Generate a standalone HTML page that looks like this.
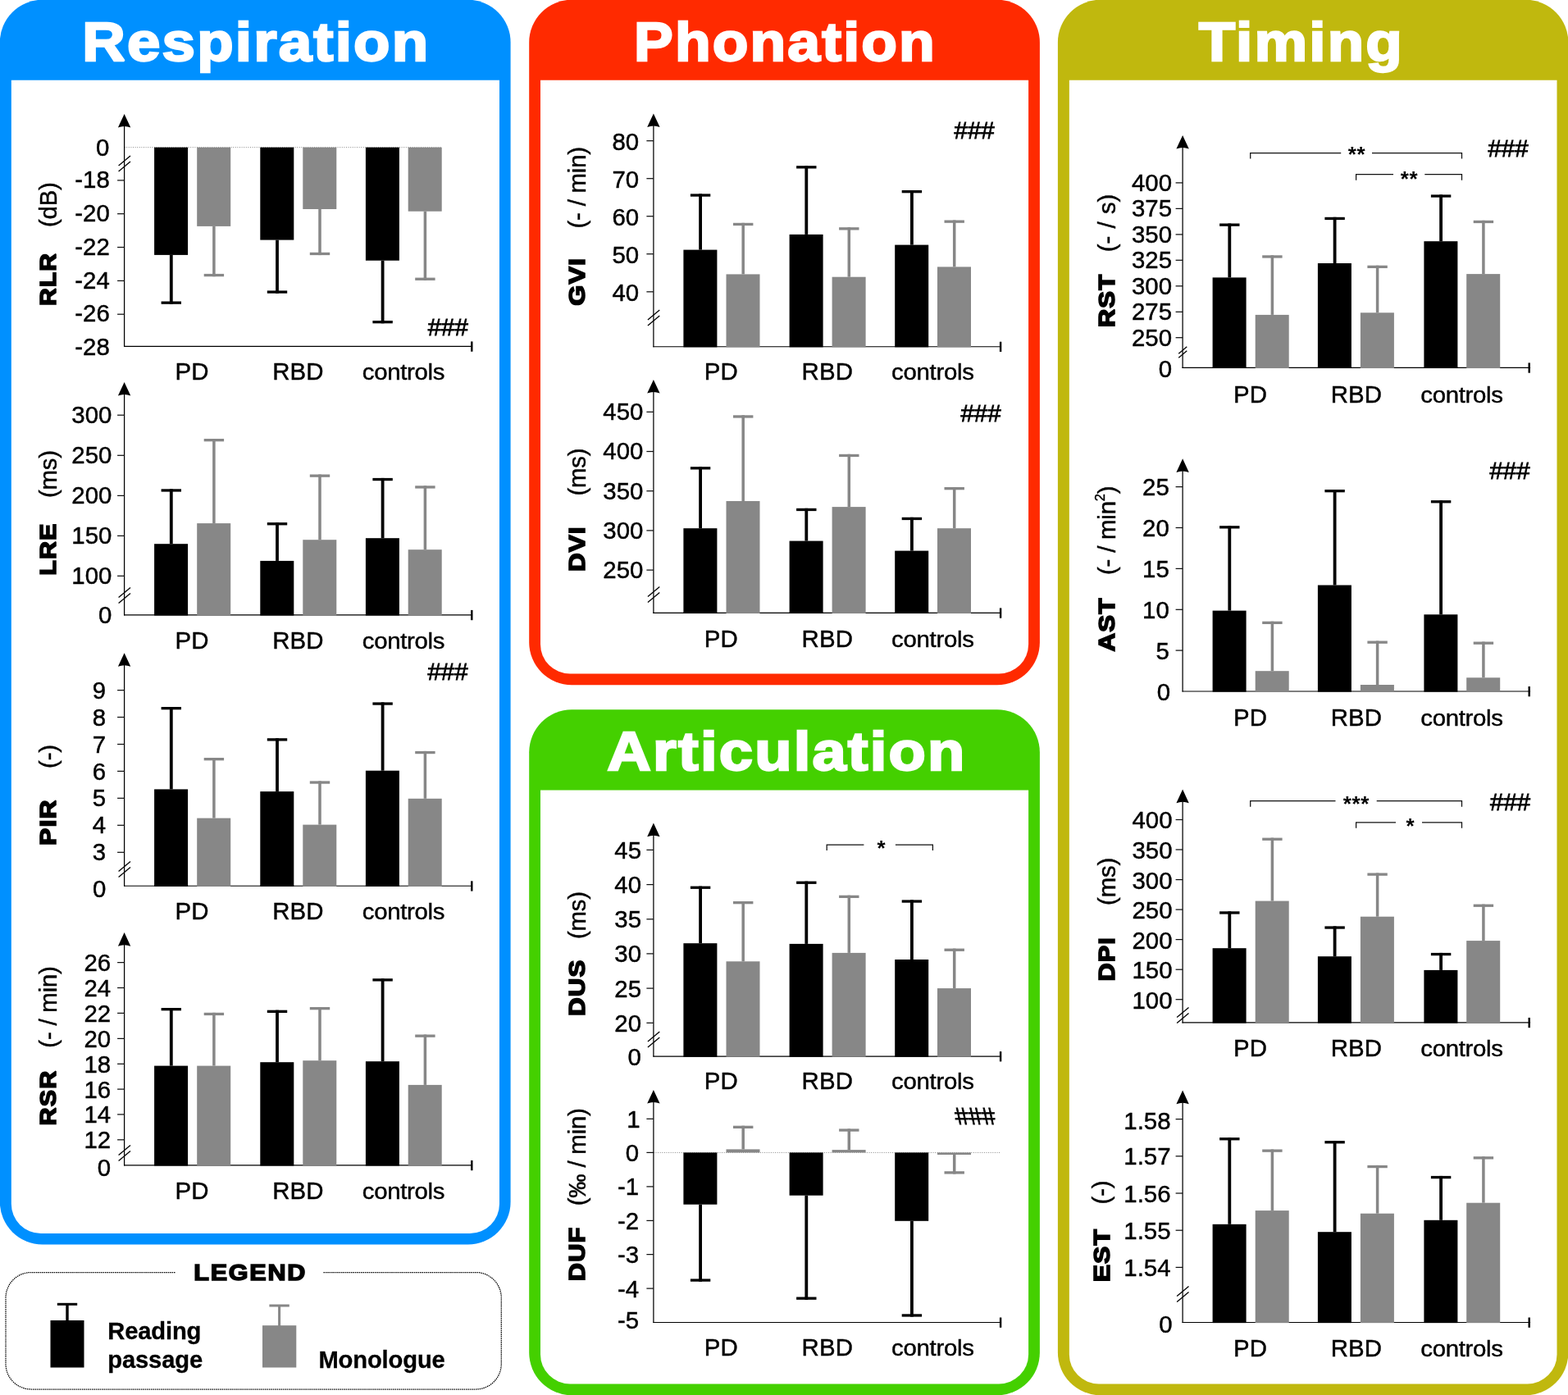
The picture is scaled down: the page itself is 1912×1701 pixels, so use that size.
<!DOCTYPE html>
<html lang="en"><head><meta charset="utf-8"><title>Speech dimensions: Respiration, Phonation, Articulation, Timing</title>
<style>
html,body{margin:0;padding:0;background:#fff;}
body{width:1912px;height:1701px;overflow:hidden;}
svg{display:block;}
text{font-family:"Liberation Sans",sans-serif;fill:#000;}
.ttl{font-weight:bold;font-size:67.5px;letter-spacing:2px;fill:#fff;stroke:#fff;stroke-width:2.4px;stroke-linejoin:miter;stroke-miterlimit:2;}
.tk,.xl,.yu,.hs{font-size:29.4px;stroke:#000;stroke-width:0.45px;}
.hs{stroke-width:0.8px;}
.tk{text-anchor:end;}
.xl{text-anchor:middle;letter-spacing:-0.3px;}
.yu{letter-spacing:-0.2px;}
.yb{font-weight:bold;font-size:28px;letter-spacing:1px;stroke:#000;stroke-width:1.6px;stroke-linejoin:miter;stroke-miterlimit:2;}
.hs{text-anchor:middle;}
.st{font-size:26px;font-weight:bold;text-anchor:middle;letter-spacing:0.6px;}
.lg{font-weight:bold;font-size:29.2px;letter-spacing:-0.15px;stroke:#000;stroke-width:0.3px;}
.lgt{font-weight:bold;font-size:27.5px;letter-spacing:1.6px;stroke:#000;stroke-width:1.5px;stroke-linejoin:miter;stroke-miterlimit:2;}
</style></head><body>
<svg width="1912" height="1701" viewBox="0 0 1912 1701">
<rect width="1912" height="1701" fill="#fff"/>
<rect x="-0.2" y="-0.3" width="622.8" height="1517.7" rx="52" ry="52" fill="#0090ff"/>
<path d="M13.8 97.7 H609 V1468 A36 36 0 0 1 573 1504 H49.8 A36 36 0 0 1 13.8 1468 Z" fill="#fff"/>
<text class="ttl" x="100.2" y="74" textLength="424.1" lengthAdjust="spacingAndGlyphs">Respiration</text>
<rect x="645.2" y="-0.3" width="622.7" height="835.5" rx="52" ry="52" fill="#ff2a00"/>
<path d="M659 97.7 H1254.1 V785.6 A36 36 0 0 1 1218.1 821.6 H695 A36 36 0 0 1 659 785.6 Z" fill="#fff"/>
<text class="ttl" x="773.1" y="74" textLength="368.7" lengthAdjust="spacingAndGlyphs">Phonation</text>
<rect x="645.2" y="865.3" width="622.7" height="836" rx="52" ry="52" fill="#44d000"/>
<path d="M659 963.6 H1254.1 V1651.4 A36 36 0 0 1 1218.1 1687.4 H695 A36 36 0 0 1 659 1651.4 Z" fill="#fff"/>
<text class="ttl" x="740.3" y="938.5" textLength="438.2" lengthAdjust="spacingAndGlyphs">Articulation</text>
<rect x="1289.9" y="-0.3" width="622.5" height="1701.6" rx="52" ry="52" fill="#c0b80e"/>
<path d="M1303.85 97.7 H1898.5 V1651.4 A36 36 0 0 1 1862.5 1687.4 H1339.85 A36 36 0 0 1 1303.85 1651.4 Z" fill="#fff"/>
<text class="ttl" x="1461.8" y="74" textLength="250.2" lengthAdjust="spacingAndGlyphs">Timing</text>
<g><line x1="151.6" y1="179.7" x2="539" y2="179.7" stroke="#777" stroke-width="0.9" stroke-dasharray="1 1.6"/>
<line x1="151.6" y1="148.9" x2="151.6" y2="422.9" stroke="#000" stroke-width="1.25"/>
<path d="M151.6 138.9 L159.3 155.5 Q151.6 152.5 143.9 155.5 Z" fill="#000"/>
<line x1="151.05" y1="422.4" x2="575.6" y2="422.4" stroke="#000" stroke-width="1.1"/>
<line x1="575.3" y1="416.4" x2="575.3" y2="428.7" stroke="#000" stroke-width="2.4"/>
<rect x="188.1" y="179.7" width="41.0" height="131.2" fill="#000"/>
<rect x="240.2" y="179.7" width="41.0" height="96.2" fill="#878787"/>
<rect x="317.3" y="179.7" width="41.0" height="112.9" fill="#000"/>
<rect x="369.3" y="179.7" width="41.0" height="75.3" fill="#878787"/>
<rect x="445.9" y="179.7" width="41.0" height="138" fill="#000"/>
<rect x="497.7" y="179.7" width="41.0" height="78" fill="#878787"/>
<rect x="206.9" y="310.9" width="3.8" height="59.9" fill="#000"/>
<rect x="196.6" y="367.5" width="24.4" height="3.3" fill="#000"/>
<rect x="259.15" y="275.9" width="3.5" height="61.3" fill="#878787"/>
<rect x="248.7" y="333.9" width="24.4" height="3.3" fill="#878787"/>
<rect x="336.1" y="292.6" width="3.8" height="65.1" fill="#000"/>
<rect x="325.8" y="354.4" width="24.4" height="3.3" fill="#000"/>
<rect x="388.25" y="255" width="3.5" height="56.1" fill="#878787"/>
<rect x="377.8" y="307.8" width="24.4" height="3.3" fill="#878787"/>
<rect x="464.7" y="317.7" width="3.8" height="76.6" fill="#000"/>
<rect x="454.4" y="391" width="24.4" height="3.3" fill="#000"/>
<rect x="516.65" y="257.7" width="3.5" height="84.2" fill="#878787"/>
<rect x="506.2" y="338.6" width="24.4" height="3.3" fill="#878787"/>
<line x1="143.1" y1="219.9" x2="151.6" y2="219.9" stroke="#111" stroke-width="1.25"/>
<text class="tk" transform="translate(133.8 229.1) scale(1 1.015)">-18</text>
<line x1="143.1" y1="260.7" x2="151.6" y2="260.7" stroke="#111" stroke-width="1.25"/>
<text class="tk" transform="translate(133.8 269.9) scale(1 1.015)">-20</text>
<line x1="143.1" y1="301.5" x2="151.6" y2="301.5" stroke="#111" stroke-width="1.25"/>
<text class="tk" transform="translate(133.8 310.7) scale(1 1.015)">-22</text>
<line x1="143.1" y1="342.4" x2="151.6" y2="342.4" stroke="#111" stroke-width="1.25"/>
<text class="tk" transform="translate(133.8 351.6) scale(1 1.015)">-24</text>
<line x1="143.1" y1="383.2" x2="151.6" y2="383.2" stroke="#111" stroke-width="1.25"/>
<text class="tk" transform="translate(133.8 392.4) scale(1 1.015)">-26</text>
<text class="tk" transform="translate(133.8 433.2) scale(1 1.015)">-28</text>
<text class="tk" transform="translate(133.4 189.8) scale(1 1.015)">0</text>
<line x1="144.6" y1="202" x2="159" y2="189.9" stroke="#000" stroke-width="1.3"/>
<line x1="144.6" y1="209.1" x2="159" y2="197" stroke="#000" stroke-width="1.3"/>
<text class="xl" style="letter-spacing:0.15px" transform="translate(234 463.4) scale(1 1.03)">PD</text>
<text class="xl" style="letter-spacing:0.15px" transform="translate(363.5 463.4) scale(1 1.03)">RBD</text>
<text class="xl" transform="translate(492 463.4) scale(1 0.95)">controls</text>
<text class="yb" transform="translate(68.4 373) rotate(-90)" textLength="64.9" lengthAdjust="spacingAndGlyphs">RLR</text>
<text class="yu" transform="translate(69.2 277.1) rotate(-90) scale(1 0.98)">(dB)</text>
<text class="hs" transform="translate(546.3 408.5) scale(1 1.03)">###</text></g>
<g><line x1="151.6" y1="475.9" x2="151.6" y2="750.4" stroke="#000" stroke-width="1.25"/>
<path d="M151.6 465.9 L159.3 482.5 Q151.6 479.5 143.9 482.5 Z" fill="#000"/>
<line x1="151.05" y1="749.9" x2="575.6" y2="749.9" stroke="#000" stroke-width="1.1"/>
<line x1="575.3" y1="743.9" x2="575.3" y2="756.2" stroke="#000" stroke-width="2.4"/>
<rect x="188.1" y="663.2" width="41.0" height="87.35" fill="#000"/>
<rect x="240.2" y="638.1" width="41.0" height="112.45" fill="#878787"/>
<rect x="317.3" y="683.9" width="41.0" height="66.65" fill="#000"/>
<rect x="369.3" y="658.2" width="41.0" height="92.35" fill="#878787"/>
<rect x="445.9" y="656.2" width="41.0" height="94.35" fill="#000"/>
<rect x="497.7" y="670.2" width="41.0" height="80.35" fill="#878787"/>
<rect x="206.9" y="596.3" width="3.8" height="66.9" fill="#000"/>
<rect x="196.6" y="596.3" width="24.4" height="3.3" fill="#000"/>
<rect x="259.15" y="535" width="3.5" height="103.1" fill="#878787"/>
<rect x="248.7" y="535" width="24.4" height="3.3" fill="#878787"/>
<rect x="336.1" y="637.1" width="3.8" height="46.8" fill="#000"/>
<rect x="325.8" y="637.1" width="24.4" height="3.3" fill="#000"/>
<rect x="388.25" y="578.5" width="3.5" height="79.7" fill="#878787"/>
<rect x="377.8" y="578.5" width="24.4" height="3.3" fill="#878787"/>
<rect x="464.7" y="582.9" width="3.8" height="73.3" fill="#000"/>
<rect x="454.4" y="582.9" width="24.4" height="3.3" fill="#000"/>
<rect x="516.65" y="592.3" width="3.5" height="77.9" fill="#878787"/>
<rect x="506.2" y="592.3" width="24.4" height="3.3" fill="#878787"/>
<line x1="143.1" y1="506.2" x2="151.6" y2="506.2" stroke="#111" stroke-width="1.25"/>
<text class="tk" transform="translate(136.4 516.2) scale(1 1.015)">300</text>
<line x1="143.1" y1="555.3" x2="151.6" y2="555.3" stroke="#111" stroke-width="1.25"/>
<text class="tk" transform="translate(136.4 565.3) scale(1 1.015)">250</text>
<line x1="143.1" y1="604.4" x2="151.6" y2="604.4" stroke="#111" stroke-width="1.25"/>
<text class="tk" transform="translate(136.4 614.4) scale(1 1.015)">200</text>
<line x1="143.1" y1="653.4" x2="151.6" y2="653.4" stroke="#111" stroke-width="1.25"/>
<text class="tk" transform="translate(136.4 663.4) scale(1 1.015)">150</text>
<line x1="143.1" y1="702.3" x2="151.6" y2="702.3" stroke="#111" stroke-width="1.25"/>
<text class="tk" transform="translate(136.4 712.3) scale(1 1.015)">100</text>
<text class="tk" transform="translate(136.4 759.7) scale(1 1.015)">0</text>
<line x1="144.6" y1="728.5" x2="159" y2="716.4" stroke="#000" stroke-width="1.3"/>
<line x1="144.6" y1="735.6" x2="159" y2="723.5" stroke="#000" stroke-width="1.3"/>
<text class="xl" style="letter-spacing:0.15px" transform="translate(234 791.1) scale(1 1.03)">PD</text>
<text class="xl" style="letter-spacing:0.15px" transform="translate(363.5 791.1) scale(1 1.03)">RBD</text>
<text class="xl" transform="translate(492 791.1) scale(1 0.95)">controls</text>
<text class="yb" transform="translate(68.4 701.8) rotate(-90)" textLength="64.2" lengthAdjust="spacingAndGlyphs">LRE</text>
<text class="yu" transform="translate(69.2 607.1) rotate(-90) scale(1 0.98)">(ms)</text></g>
<g><line x1="151.6" y1="806.2" x2="151.6" y2="1080.8" stroke="#000" stroke-width="1.25"/>
<path d="M151.6 796.2 L159.3 812.8 Q151.6 809.8 143.9 812.8 Z" fill="#000"/>
<line x1="151.05" y1="1080.3" x2="575.6" y2="1080.3" stroke="#000" stroke-width="1.1"/>
<line x1="575.3" y1="1074.3" x2="575.3" y2="1086.6" stroke="#000" stroke-width="2.4"/>
<rect x="188.1" y="962.4" width="41.0" height="118.55" fill="#000"/>
<rect x="240.2" y="997.6" width="41.0" height="83.35" fill="#878787"/>
<rect x="317.3" y="965.1" width="41.0" height="115.85" fill="#000"/>
<rect x="369.3" y="1005.6" width="41.0" height="75.35" fill="#878787"/>
<rect x="445.9" y="939.7" width="41.0" height="141.25" fill="#000"/>
<rect x="497.7" y="973.8" width="41.0" height="107.15" fill="#878787"/>
<rect x="206.9" y="862" width="3.8" height="100.4" fill="#000"/>
<rect x="196.6" y="862" width="24.4" height="3.3" fill="#000"/>
<rect x="259.15" y="924" width="3.5" height="73.6" fill="#878787"/>
<rect x="248.7" y="924" width="24.4" height="3.3" fill="#878787"/>
<rect x="336.1" y="900.2" width="3.8" height="64.9" fill="#000"/>
<rect x="325.8" y="900.2" width="24.4" height="3.3" fill="#000"/>
<rect x="388.25" y="952.4" width="3.5" height="53.2" fill="#878787"/>
<rect x="377.8" y="952.4" width="24.4" height="3.3" fill="#878787"/>
<rect x="464.7" y="856.4" width="3.8" height="83.3" fill="#000"/>
<rect x="454.4" y="856.4" width="24.4" height="3.3" fill="#000"/>
<rect x="516.65" y="915.9" width="3.5" height="57.9" fill="#878787"/>
<rect x="506.2" y="915.9" width="24.4" height="3.3" fill="#878787"/>
<line x1="143.1" y1="841.6" x2="151.6" y2="841.6" stroke="#111" stroke-width="1.25"/>
<text class="tk" transform="translate(129.2 851.7) scale(1 1.015)">9</text>
<line x1="143.1" y1="874.5" x2="151.6" y2="874.5" stroke="#111" stroke-width="1.25"/>
<text class="tk" transform="translate(129.2 884.6) scale(1 1.015)">8</text>
<line x1="143.1" y1="907.5" x2="151.6" y2="907.5" stroke="#111" stroke-width="1.25"/>
<text class="tk" transform="translate(129.2 917.6) scale(1 1.015)">7</text>
<line x1="143.1" y1="940.4" x2="151.6" y2="940.4" stroke="#111" stroke-width="1.25"/>
<text class="tk" transform="translate(129.2 950.5) scale(1 1.015)">6</text>
<line x1="143.1" y1="973.3" x2="151.6" y2="973.3" stroke="#111" stroke-width="1.25"/>
<text class="tk" transform="translate(129.2 983.4) scale(1 1.015)">5</text>
<line x1="143.1" y1="1006.3" x2="151.6" y2="1006.3" stroke="#111" stroke-width="1.25"/>
<text class="tk" transform="translate(129.2 1016.4) scale(1 1.015)">4</text>
<line x1="143.1" y1="1039.3" x2="151.6" y2="1039.3" stroke="#111" stroke-width="1.25"/>
<text class="tk" transform="translate(129.2 1049.4) scale(1 1.015)">3</text>
<text class="tk" transform="translate(129.4 1093.8) scale(1 1.015)">0</text>
<line x1="144.6" y1="1062.5" x2="159" y2="1050.4" stroke="#000" stroke-width="1.3"/>
<line x1="144.6" y1="1069.6" x2="159" y2="1057.5" stroke="#000" stroke-width="1.3"/>
<text class="xl" style="letter-spacing:0.15px" transform="translate(234 1121.2) scale(1 1.03)">PD</text>
<text class="xl" style="letter-spacing:0.15px" transform="translate(363.5 1121.2) scale(1 1.03)">RBD</text>
<text class="xl" transform="translate(492 1121.2) scale(1 0.95)">controls</text>
<text class="yb" transform="translate(68.4 1030.9) rotate(-90)" textLength="56.6" lengthAdjust="spacingAndGlyphs">PIR</text>
<text class="yu" transform="translate(69.2 936.9) rotate(-90) scale(1 0.98)">(-)</text>
<text class="hs" transform="translate(546 828.9) scale(1 1.03)">###</text></g>
<g><line x1="151.6" y1="1147.1" x2="151.6" y2="1421.4" stroke="#000" stroke-width="1.25"/>
<path d="M151.6 1137.1 L159.3 1153.7 Q151.6 1150.7 143.9 1153.7 Z" fill="#000"/>
<line x1="151.05" y1="1420.9" x2="575.6" y2="1420.9" stroke="#000" stroke-width="1.1"/>
<line x1="575.3" y1="1414.9" x2="575.3" y2="1427.2" stroke="#000" stroke-width="2.4"/>
<rect x="188.1" y="1299.6" width="41.0" height="121.95" fill="#000"/>
<rect x="240.2" y="1299.6" width="41.0" height="121.95" fill="#878787"/>
<rect x="317.3" y="1295.2" width="41.0" height="126.35" fill="#000"/>
<rect x="369.3" y="1293.2" width="41.0" height="128.35" fill="#878787"/>
<rect x="445.9" y="1294.2" width="41.0" height="127.35" fill="#000"/>
<rect x="497.7" y="1322.9" width="41.0" height="98.65" fill="#878787"/>
<rect x="206.9" y="1229" width="3.8" height="70.6" fill="#000"/>
<rect x="196.6" y="1229" width="24.4" height="3.3" fill="#000"/>
<rect x="259.15" y="1234.8" width="3.5" height="64.8" fill="#878787"/>
<rect x="248.7" y="1234.8" width="24.4" height="3.3" fill="#878787"/>
<rect x="336.1" y="1231.7" width="3.8" height="63.5" fill="#000"/>
<rect x="325.8" y="1231.7" width="24.4" height="3.3" fill="#000"/>
<rect x="388.25" y="1228" width="3.5" height="65.2" fill="#878787"/>
<rect x="377.8" y="1228" width="24.4" height="3.3" fill="#878787"/>
<rect x="464.7" y="1193.2" width="3.8" height="101" fill="#000"/>
<rect x="454.4" y="1193.2" width="24.4" height="3.3" fill="#000"/>
<rect x="516.65" y="1261.5" width="3.5" height="61.4" fill="#878787"/>
<rect x="506.2" y="1261.5" width="24.4" height="3.3" fill="#878787"/>
<line x1="143.1" y1="1173.6" x2="151.6" y2="1173.6" stroke="#111" stroke-width="1.25"/>
<text class="tk" transform="translate(135.1 1184.1) scale(1 1.015)">26</text>
<line x1="143.1" y1="1204.5" x2="151.6" y2="1204.5" stroke="#111" stroke-width="1.25"/>
<text class="tk" transform="translate(135.1 1215) scale(1 1.015)">24</text>
<line x1="143.1" y1="1235.4" x2="151.6" y2="1235.4" stroke="#111" stroke-width="1.25"/>
<text class="tk" transform="translate(135.1 1245.9) scale(1 1.015)">22</text>
<line x1="143.1" y1="1266.4" x2="151.6" y2="1266.4" stroke="#111" stroke-width="1.25"/>
<text class="tk" transform="translate(135.1 1276.9) scale(1 1.015)">20</text>
<line x1="143.1" y1="1297.3" x2="151.6" y2="1297.3" stroke="#111" stroke-width="1.25"/>
<text class="tk" transform="translate(135.1 1307.8) scale(1 1.015)">18</text>
<line x1="143.1" y1="1328.1" x2="151.6" y2="1328.1" stroke="#111" stroke-width="1.25"/>
<text class="tk" transform="translate(135.1 1338.6) scale(1 1.015)">16</text>
<line x1="143.1" y1="1358.9" x2="151.6" y2="1358.9" stroke="#111" stroke-width="1.25"/>
<text class="tk" transform="translate(135.1 1369.4) scale(1 1.015)">14</text>
<line x1="143.1" y1="1389.8" x2="151.6" y2="1389.8" stroke="#111" stroke-width="1.25"/>
<text class="tk" transform="translate(135.1 1400.3) scale(1 1.015)">12</text>
<text class="tk" transform="translate(135.1 1434) scale(1 1.015)">0</text>
<line x1="144.6" y1="1408.5" x2="159" y2="1396.4" stroke="#000" stroke-width="1.3"/>
<line x1="144.6" y1="1415.6" x2="159" y2="1403.5" stroke="#000" stroke-width="1.3"/>
<text class="xl" style="letter-spacing:0.15px" transform="translate(234 1462.1) scale(1 1.03)">PD</text>
<text class="xl" style="letter-spacing:0.15px" transform="translate(363.5 1462.1) scale(1 1.03)">RBD</text>
<text class="xl" transform="translate(492 1462.1) scale(1 0.95)">controls</text>
<text class="yb" transform="translate(68.4 1372.5) rotate(-90)" textLength="67.9" lengthAdjust="spacingAndGlyphs">RSR</text>
<text class="yu" transform="translate(69.2 1277.7) rotate(-90) scale(1 0.98)">(- / min)</text></g>
<g><line x1="796.9" y1="148.4" x2="796.9" y2="423.2" stroke="#000" stroke-width="1.25"/>
<path d="M796.9 138.4 L804.6 155 Q796.9 152 789.2 155 Z" fill="#000"/>
<line x1="796.35" y1="422.7" x2="1220.9" y2="422.7" stroke="#000" stroke-width="1.1"/>
<line x1="1220.1" y1="416.7" x2="1220.1" y2="429" stroke="#000" stroke-width="2.4"/>
<rect x="833.4" y="304.6" width="41.0" height="118.75" fill="#000"/>
<rect x="885.5" y="334.4" width="41.0" height="88.95" fill="#878787"/>
<rect x="962.6" y="285.9" width="41.0" height="137.45" fill="#000"/>
<rect x="1014.6" y="337.7" width="41.0" height="85.65" fill="#878787"/>
<rect x="1091.2" y="298.6" width="41.0" height="124.75" fill="#000"/>
<rect x="1143" y="325.4" width="41.0" height="97.95" fill="#878787"/>
<rect x="852.2" y="236.4" width="3.8" height="68.2" fill="#000"/>
<rect x="841.9" y="236.4" width="24.4" height="3.3" fill="#000"/>
<rect x="904.45" y="271.8" width="3.5" height="62.6" fill="#878787"/>
<rect x="894" y="271.8" width="24.4" height="3.3" fill="#878787"/>
<rect x="981.4" y="202.2" width="3.8" height="83.7" fill="#000"/>
<rect x="971.1" y="202.2" width="24.4" height="3.3" fill="#000"/>
<rect x="1033.55" y="277.2" width="3.5" height="60.5" fill="#878787"/>
<rect x="1023.1" y="277.2" width="24.4" height="3.3" fill="#878787"/>
<rect x="1110" y="232" width="3.8" height="66.6" fill="#000"/>
<rect x="1099.7" y="232" width="24.4" height="3.3" fill="#000"/>
<rect x="1161.95" y="268.5" width="3.5" height="56.9" fill="#878787"/>
<rect x="1151.5" y="268.5" width="24.4" height="3.3" fill="#878787"/>
<line x1="788.4" y1="171.7" x2="796.9" y2="171.7" stroke="#111" stroke-width="1.25"/>
<text class="tk" transform="translate(779.1 182.6) scale(1 1.015)">80</text>
<line x1="788.4" y1="217.7" x2="796.9" y2="217.7" stroke="#111" stroke-width="1.25"/>
<text class="tk" transform="translate(779.1 228.6) scale(1 1.015)">70</text>
<line x1="788.4" y1="263.7" x2="796.9" y2="263.7" stroke="#111" stroke-width="1.25"/>
<text class="tk" transform="translate(779.1 274.6) scale(1 1.015)">60</text>
<line x1="788.4" y1="309.7" x2="796.9" y2="309.7" stroke="#111" stroke-width="1.25"/>
<text class="tk" transform="translate(779.1 320.6) scale(1 1.015)">50</text>
<line x1="788.4" y1="355.8" x2="796.9" y2="355.8" stroke="#111" stroke-width="1.25"/>
<text class="tk" transform="translate(779.1 366.7) scale(1 1.015)">40</text>
<line x1="789.9" y1="390" x2="804.3" y2="377.9" stroke="#000" stroke-width="1.3"/>
<line x1="789.9" y1="397.1" x2="804.3" y2="385" stroke="#000" stroke-width="1.3"/>
<text class="xl" style="letter-spacing:0.15px" transform="translate(879.3 463.4) scale(1 1.03)">PD</text>
<text class="xl" style="letter-spacing:0.15px" transform="translate(1008.8 463.4) scale(1 1.03)">RBD</text>
<text class="xl" transform="translate(1137.3 463.4) scale(1 0.95)">controls</text>
<text class="yb" transform="translate(713.3 372.7) rotate(-90)" textLength="58.9" lengthAdjust="spacingAndGlyphs">GVI</text>
<text class="yu" transform="translate(714.1 278.5) rotate(-90) scale(1 0.98)">(- / min)</text>
<text class="hs" transform="translate(1188.1 168.7) scale(1 1.03)">###</text></g>
<g><line x1="796.9" y1="472.9" x2="796.9" y2="747.9" stroke="#000" stroke-width="1.25"/>
<path d="M796.9 462.9 L804.6 479.5 Q796.9 476.5 789.2 479.5 Z" fill="#000"/>
<line x1="796.35" y1="747.4" x2="1220.9" y2="747.4" stroke="#000" stroke-width="1.1"/>
<line x1="1220.1" y1="741.4" x2="1220.1" y2="753.7" stroke="#000" stroke-width="2.4"/>
<rect x="833.4" y="644.2" width="41.0" height="103.85" fill="#000"/>
<rect x="885.5" y="611" width="41.0" height="137.05" fill="#878787"/>
<rect x="962.6" y="659.6" width="41.0" height="88.45" fill="#000"/>
<rect x="1014.6" y="618.1" width="41.0" height="129.95" fill="#878787"/>
<rect x="1091.2" y="671.6" width="41.0" height="76.45" fill="#000"/>
<rect x="1143" y="644.2" width="41.0" height="103.85" fill="#878787"/>
<rect x="852.2" y="569.2" width="3.8" height="75" fill="#000"/>
<rect x="841.9" y="569.2" width="24.4" height="3.3" fill="#000"/>
<rect x="904.45" y="506.3" width="3.5" height="104.7" fill="#878787"/>
<rect x="894" y="506.3" width="24.4" height="3.3" fill="#878787"/>
<rect x="981.4" y="619.8" width="3.8" height="39.8" fill="#000"/>
<rect x="971.1" y="619.8" width="24.4" height="3.3" fill="#000"/>
<rect x="1033.55" y="553.8" width="3.5" height="64.3" fill="#878787"/>
<rect x="1023.1" y="553.8" width="24.4" height="3.3" fill="#878787"/>
<rect x="1110" y="630.8" width="3.8" height="40.8" fill="#000"/>
<rect x="1099.7" y="630.8" width="24.4" height="3.3" fill="#000"/>
<rect x="1161.95" y="594" width="3.5" height="50.2" fill="#878787"/>
<rect x="1151.5" y="594" width="24.4" height="3.3" fill="#878787"/>
<line x1="788.4" y1="502.3" x2="796.9" y2="502.3" stroke="#111" stroke-width="1.25"/>
<text class="tk" transform="translate(784.4 512.1) scale(1 1.015)">450</text>
<line x1="788.4" y1="550.5" x2="796.9" y2="550.5" stroke="#111" stroke-width="1.25"/>
<text class="tk" transform="translate(784.4 560.3) scale(1 1.015)">400</text>
<line x1="788.4" y1="598.7" x2="796.9" y2="598.7" stroke="#111" stroke-width="1.25"/>
<text class="tk" transform="translate(784.4 608.5) scale(1 1.015)">350</text>
<line x1="788.4" y1="646.9" x2="796.9" y2="646.9" stroke="#111" stroke-width="1.25"/>
<text class="tk" transform="translate(784.4 656.7) scale(1 1.015)">300</text>
<line x1="788.4" y1="695.1" x2="796.9" y2="695.1" stroke="#111" stroke-width="1.25"/>
<text class="tk" transform="translate(784.4 704.9) scale(1 1.015)">250</text>
<line x1="789.9" y1="727.5" x2="804.3" y2="715.4" stroke="#000" stroke-width="1.3"/>
<line x1="789.9" y1="734.6" x2="804.3" y2="722.5" stroke="#000" stroke-width="1.3"/>
<text class="xl" style="letter-spacing:0.15px" transform="translate(879.3 788.5) scale(1 1.03)">PD</text>
<text class="xl" style="letter-spacing:0.15px" transform="translate(1008.8 788.5) scale(1 1.03)">RBD</text>
<text class="xl" transform="translate(1137.3 788.5) scale(1 0.95)">controls</text>
<text class="yb" transform="translate(712.9 696.9) rotate(-90)" textLength="55.6" lengthAdjust="spacingAndGlyphs">DVI</text>
<text class="yu" transform="translate(713.7 604.6) rotate(-90) scale(1 0.98)">(ms)</text>
<text class="hs" transform="translate(1196 514) scale(1 1.03)">###</text></g>
<g><line x1="796.9" y1="1013.6" x2="796.9" y2="1288.6" stroke="#000" stroke-width="1.25"/>
<path d="M796.9 1003.6 L804.6 1020.2 Q796.9 1017.2 789.2 1020.2 Z" fill="#000"/>
<line x1="796.35" y1="1288.1" x2="1220.9" y2="1288.1" stroke="#000" stroke-width="1.1"/>
<line x1="1220.1" y1="1282.1" x2="1220.1" y2="1294.4" stroke="#000" stroke-width="2.4"/>
<rect x="833.4" y="1150.2" width="41.0" height="138.55" fill="#000"/>
<rect x="885.5" y="1172.3" width="41.0" height="116.45" fill="#878787"/>
<rect x="962.6" y="1150.9" width="41.0" height="137.85" fill="#000"/>
<rect x="1014.6" y="1161.9" width="41.0" height="126.85" fill="#878787"/>
<rect x="1091.2" y="1170" width="41.0" height="118.75" fill="#000"/>
<rect x="1143" y="1205.1" width="41.0" height="83.65" fill="#878787"/>
<rect x="852.2" y="1080.6" width="3.8" height="69.6" fill="#000"/>
<rect x="841.9" y="1080.6" width="24.4" height="3.3" fill="#000"/>
<rect x="904.45" y="1099" width="3.5" height="73.3" fill="#878787"/>
<rect x="894" y="1099" width="24.4" height="3.3" fill="#878787"/>
<rect x="981.4" y="1074.6" width="3.8" height="76.3" fill="#000"/>
<rect x="971.1" y="1074.6" width="24.4" height="3.3" fill="#000"/>
<rect x="1033.55" y="1091.7" width="3.5" height="70.2" fill="#878787"/>
<rect x="1023.1" y="1091.7" width="24.4" height="3.3" fill="#878787"/>
<rect x="1110" y="1097.4" width="3.8" height="72.6" fill="#000"/>
<rect x="1099.7" y="1097.4" width="24.4" height="3.3" fill="#000"/>
<rect x="1161.95" y="1156.6" width="3.5" height="48.5" fill="#878787"/>
<rect x="1151.5" y="1156.6" width="24.4" height="3.3" fill="#878787"/>
<line x1="788.4" y1="1036.4" x2="796.9" y2="1036.4" stroke="#111" stroke-width="1.25"/>
<text class="tk" transform="translate(782 1046.9) scale(1 1.015)">45</text>
<line x1="788.4" y1="1078.6" x2="796.9" y2="1078.6" stroke="#111" stroke-width="1.25"/>
<text class="tk" transform="translate(782 1089.1) scale(1 1.015)">40</text>
<line x1="788.4" y1="1120.8" x2="796.9" y2="1120.8" stroke="#111" stroke-width="1.25"/>
<text class="tk" transform="translate(782 1131.3) scale(1 1.015)">35</text>
<line x1="788.4" y1="1162.9" x2="796.9" y2="1162.9" stroke="#111" stroke-width="1.25"/>
<text class="tk" transform="translate(782 1173.4) scale(1 1.015)">30</text>
<line x1="788.4" y1="1205.1" x2="796.9" y2="1205.1" stroke="#111" stroke-width="1.25"/>
<text class="tk" transform="translate(782 1215.6) scale(1 1.015)">25</text>
<line x1="788.4" y1="1247.3" x2="796.9" y2="1247.3" stroke="#111" stroke-width="1.25"/>
<text class="tk" transform="translate(782 1257.8) scale(1 1.015)">20</text>
<text class="tk" transform="translate(781.8 1298.7) scale(1 1.015)">0</text>
<line x1="789.9" y1="1270" x2="804.3" y2="1257.9" stroke="#000" stroke-width="1.3"/>
<line x1="789.9" y1="1277.1" x2="804.3" y2="1265" stroke="#000" stroke-width="1.3"/>
<text class="xl" style="letter-spacing:0.15px" transform="translate(879.3 1328.4) scale(1 1.03)">PD</text>
<text class="xl" style="letter-spacing:0.15px" transform="translate(1008.8 1328.4) scale(1 1.03)">RBD</text>
<text class="xl" transform="translate(1137.3 1328.4) scale(1 0.95)">controls</text>
<text class="yb" transform="translate(712.9 1239) rotate(-90)" textLength="69.4" lengthAdjust="spacingAndGlyphs">DUS</text>
<text class="yu" transform="translate(713.7 1145.1) rotate(-90) scale(1 0.98)">(ms)</text>
<path d="M1008.2 1037 V1030 H1053.4 M1091.9 1030 H1137.4 V1037" fill="none" stroke="#111" stroke-width="1.25"/>
<text class="st" x="1074.95" y="1043.2">*</text></g>
<g><line x1="796.9" y1="1405.4" x2="1220.3" y2="1405.4" stroke="#777" stroke-width="0.9" stroke-dasharray="1 1.6"/>
<line x1="796.9" y1="1338.9" x2="796.9" y2="1613" stroke="#000" stroke-width="1.25"/>
<path d="M796.9 1328.9 L804.6 1345.5 Q796.9 1342.5 789.2 1345.5 Z" fill="#000"/>
<line x1="796.35" y1="1612.5" x2="1220.9" y2="1612.5" stroke="#000" stroke-width="1.1"/>
<line x1="1220.1" y1="1606.5" x2="1220.1" y2="1618.8" stroke="#000" stroke-width="2.4"/>
<rect x="833.4" y="1405.4" width="41.0" height="63.3" fill="#000"/>
<rect x="885.5" y="1401.4" width="41.0" height="4" fill="#878787"/>
<rect x="962.6" y="1405.4" width="41.0" height="52.3" fill="#000"/>
<rect x="1014.6" y="1402.1" width="41.0" height="3.3" fill="#878787"/>
<rect x="1091.2" y="1405.4" width="41.0" height="83.4" fill="#000"/>
<rect x="1143" y="1405.4" width="41.0" height="2.6" fill="#878787"/>
<rect x="852.2" y="1468.7" width="3.8" height="94" fill="#000"/>
<rect x="841.9" y="1559.4" width="24.4" height="3.3" fill="#000"/>
<rect x="904.45" y="1372.7" width="3.5" height="28.7" fill="#878787"/>
<rect x="894" y="1372.7" width="24.4" height="3.3" fill="#878787"/>
<rect x="981.4" y="1457.7" width="3.8" height="127.1" fill="#000"/>
<rect x="971.1" y="1581.5" width="24.4" height="3.3" fill="#000"/>
<rect x="1033.55" y="1376.4" width="3.5" height="25.7" fill="#878787"/>
<rect x="1023.1" y="1376.4" width="24.4" height="3.3" fill="#878787"/>
<rect x="1110" y="1488.8" width="3.8" height="116.8" fill="#000"/>
<rect x="1099.7" y="1602.3" width="24.4" height="3.3" fill="#000"/>
<rect x="1161.95" y="1408" width="3.5" height="23.5" fill="#878787"/>
<rect x="1151.5" y="1428.2" width="24.4" height="3.3" fill="#878787"/>
<line x1="788.4" y1="1364.3" x2="796.9" y2="1364.3" stroke="#111" stroke-width="1.25"/>
<text class="tk" transform="translate(780.5 1374.8) scale(1 1.015)">1</text>
<line x1="788.4" y1="1405.4" x2="796.9" y2="1405.4" stroke="#111" stroke-width="1.25"/>
<text class="tk" transform="translate(779.1 1415.9) scale(1 1.015)">0</text>
<line x1="788.4" y1="1446.9" x2="796.9" y2="1446.9" stroke="#111" stroke-width="1.25"/>
<text class="tk" transform="translate(779.1 1457.4) scale(1 1.015)">-1</text>
<line x1="788.4" y1="1488.4" x2="796.9" y2="1488.4" stroke="#111" stroke-width="1.25"/>
<text class="tk" transform="translate(779.1 1498.9) scale(1 1.015)">-2</text>
<line x1="788.4" y1="1529.6" x2="796.9" y2="1529.6" stroke="#111" stroke-width="1.25"/>
<text class="tk" transform="translate(779.1 1540.1) scale(1 1.015)">-3</text>
<line x1="788.4" y1="1571.1" x2="796.9" y2="1571.1" stroke="#111" stroke-width="1.25"/>
<text class="tk" transform="translate(779.1 1581.6) scale(1 1.015)">-4</text>
<text class="tk" transform="translate(779.1 1619.6) scale(1 1.015)">-5</text>
<text class="xl" style="letter-spacing:0.15px" transform="translate(879.3 1653.2) scale(1 1.03)">PD</text>
<text class="xl" style="letter-spacing:0.15px" transform="translate(1008.8 1653.2) scale(1 1.03)">RBD</text>
<text class="xl" transform="translate(1137.3 1653.2) scale(1 0.95)">controls</text>
<text class="yb" transform="translate(712.9 1562.2) rotate(-90)" textLength="66.6" lengthAdjust="spacingAndGlyphs">DUF</text>
<text class="yu" transform="translate(713.7 1470.3) rotate(-90) scale(1 0.98)">(‰ / min)</text>
<text class="hs" transform="translate(1188.7 1370.5) scale(-1 1.03)">###</text></g>
<g><line x1="1442.1" y1="174.9" x2="1442.1" y2="448.9" stroke="#000" stroke-width="1.25"/>
<path d="M1442.1 164.9 L1449.8 181.5 Q1442.1 178.5 1434.4 181.5 Z" fill="#000"/>
<line x1="1441.55" y1="448.4" x2="1866.1" y2="448.4" stroke="#000" stroke-width="1.1"/>
<line x1="1864.7" y1="442.4" x2="1864.7" y2="454.7" stroke="#000" stroke-width="2.4"/>
<rect x="1478.6" y="338.4" width="41.0" height="110.65" fill="#000"/>
<rect x="1530.7" y="383.9" width="41.0" height="65.15" fill="#878787"/>
<rect x="1606.9" y="321" width="41.0" height="128.05" fill="#000"/>
<rect x="1658.9" y="381.3" width="41.0" height="67.75" fill="#878787"/>
<rect x="1736.4" y="294.2" width="41.0" height="154.85" fill="#000"/>
<rect x="1788.2" y="334.1" width="41.0" height="114.95" fill="#878787"/>
<rect x="1497.4" y="272.5" width="3.8" height="65.9" fill="#000"/>
<rect x="1487.1" y="272.5" width="24.4" height="3.3" fill="#000"/>
<rect x="1549.65" y="311.3" width="3.5" height="72.6" fill="#878787"/>
<rect x="1539.2" y="311.3" width="24.4" height="3.3" fill="#878787"/>
<rect x="1625.7" y="264.8" width="3.8" height="56.2" fill="#000"/>
<rect x="1615.4" y="264.8" width="24.4" height="3.3" fill="#000"/>
<rect x="1677.85" y="323.7" width="3.5" height="57.6" fill="#878787"/>
<rect x="1667.4" y="323.7" width="24.4" height="3.3" fill="#878787"/>
<rect x="1755.2" y="237.4" width="3.8" height="56.8" fill="#000"/>
<rect x="1744.9" y="237.4" width="24.4" height="3.3" fill="#000"/>
<rect x="1807.15" y="268.8" width="3.5" height="65.3" fill="#878787"/>
<rect x="1796.7" y="268.8" width="24.4" height="3.3" fill="#878787"/>
<line x1="1433.6" y1="222.9" x2="1442.1" y2="222.9" stroke="#111" stroke-width="1.25"/>
<text class="tk" transform="translate(1429 232.9) scale(1 1.015)">400</text>
<line x1="1433.6" y1="254.4" x2="1442.1" y2="254.4" stroke="#111" stroke-width="1.25"/>
<text class="tk" transform="translate(1429 264.4) scale(1 1.015)">375</text>
<line x1="1433.6" y1="285.9" x2="1442.1" y2="285.9" stroke="#111" stroke-width="1.25"/>
<text class="tk" transform="translate(1429 295.9) scale(1 1.015)">350</text>
<line x1="1433.6" y1="317.3" x2="1442.1" y2="317.3" stroke="#111" stroke-width="1.25"/>
<text class="tk" transform="translate(1429 327.3) scale(1 1.015)">325</text>
<line x1="1433.6" y1="348.8" x2="1442.1" y2="348.8" stroke="#111" stroke-width="1.25"/>
<text class="tk" transform="translate(1429 358.8) scale(1 1.015)">300</text>
<line x1="1433.6" y1="380.3" x2="1442.1" y2="380.3" stroke="#111" stroke-width="1.25"/>
<text class="tk" transform="translate(1429 390.3) scale(1 1.015)">275</text>
<line x1="1433.6" y1="411.7" x2="1442.1" y2="411.7" stroke="#111" stroke-width="1.25"/>
<text class="tk" transform="translate(1429 421.7) scale(1 1.015)">250</text>
<text class="tk" transform="translate(1429 460.4) scale(1 1.015)">0</text>
<line x1="1437.2" y1="431.25" x2="1447.28" y2="422.78" stroke="#000" stroke-width="1.3"/>
<line x1="1437.2" y1="436.22" x2="1447.28" y2="427.75" stroke="#000" stroke-width="1.3"/>
<text class="xl" style="letter-spacing:0.15px" transform="translate(1524.5 490.6) scale(1 1.03)">PD</text>
<text class="xl" style="letter-spacing:0.15px" transform="translate(1654 490.6) scale(1 1.03)">RBD</text>
<text class="xl" transform="translate(1782.5 490.6) scale(1 0.95)">controls</text>
<text class="yb" transform="translate(1359.2 399.2) rotate(-90)" textLength="65.5" lengthAdjust="spacingAndGlyphs">RST</text>
<text class="yu" style="word-spacing:1.6px" transform="translate(1360 307.2) rotate(-90) scale(1 0.98)">(- / s)</text>
<text class="hs" transform="translate(1839 190.6) scale(1 1.03)">###</text>
<path d="M1524.7 193.6 V186.6 H1635.2 M1673 186.6 H1782.5 V193.6" fill="none" stroke="#111" stroke-width="1.25"/>
<text class="st" x="1654.4" y="196.9">**</text>
<path d="M1653.6 219.7 V212.7 H1699 M1737.3 212.7 H1782.5 V219.7" fill="none" stroke="#111" stroke-width="1.25"/>
<text class="st" x="1718.45" y="227">**</text></g>
<g><line x1="1442.1" y1="569.3" x2="1442.1" y2="843.5" stroke="#000" stroke-width="1.25"/>
<path d="M1442.1 559.3 L1449.8 575.9 Q1442.1 572.9 1434.4 575.9 Z" fill="#000"/>
<line x1="1441.55" y1="843" x2="1866.1" y2="843" stroke="#000" stroke-width="1.1"/>
<line x1="1864.7" y1="837" x2="1864.7" y2="849.3" stroke="#000" stroke-width="2.4"/>
<rect x="1478.6" y="744.6" width="41.0" height="99.05" fill="#000"/>
<rect x="1530.7" y="818.2" width="41.0" height="25.45" fill="#878787"/>
<rect x="1606.9" y="713.5" width="41.0" height="130.15" fill="#000"/>
<rect x="1658.9" y="835" width="41.0" height="8.65" fill="#878787"/>
<rect x="1736.4" y="749.3" width="41.0" height="94.35" fill="#000"/>
<rect x="1788.2" y="826.3" width="41.0" height="17.35" fill="#878787"/>
<rect x="1497.4" y="641.2" width="3.8" height="103.4" fill="#000"/>
<rect x="1487.1" y="641.2" width="24.4" height="3.3" fill="#000"/>
<rect x="1549.65" y="757.7" width="3.5" height="60.5" fill="#878787"/>
<rect x="1539.2" y="757.7" width="24.4" height="3.3" fill="#878787"/>
<rect x="1625.7" y="597" width="3.8" height="116.5" fill="#000"/>
<rect x="1615.4" y="597" width="24.4" height="3.3" fill="#000"/>
<rect x="1677.85" y="781.5" width="3.5" height="53.5" fill="#878787"/>
<rect x="1667.4" y="781.5" width="24.4" height="3.3" fill="#878787"/>
<rect x="1755.2" y="610.1" width="3.8" height="139.2" fill="#000"/>
<rect x="1744.9" y="610.1" width="24.4" height="3.3" fill="#000"/>
<rect x="1807.15" y="782.5" width="3.5" height="43.8" fill="#878787"/>
<rect x="1796.7" y="782.5" width="24.4" height="3.3" fill="#878787"/>
<line x1="1433.6" y1="593.6" x2="1442.1" y2="593.6" stroke="#111" stroke-width="1.25"/>
<text class="tk" transform="translate(1425.8 604.1) scale(1 1.015)">25</text>
<line x1="1433.6" y1="643.5" x2="1442.1" y2="643.5" stroke="#111" stroke-width="1.25"/>
<text class="tk" transform="translate(1425.8 654) scale(1 1.015)">20</text>
<line x1="1433.6" y1="693.4" x2="1442.1" y2="693.4" stroke="#111" stroke-width="1.25"/>
<text class="tk" transform="translate(1425.8 703.9) scale(1 1.015)">15</text>
<line x1="1433.6" y1="743.3" x2="1442.1" y2="743.3" stroke="#111" stroke-width="1.25"/>
<text class="tk" transform="translate(1425.8 753.8) scale(1 1.015)">10</text>
<line x1="1433.6" y1="793.1" x2="1442.1" y2="793.1" stroke="#111" stroke-width="1.25"/>
<text class="tk" transform="translate(1425.8 803.6) scale(1 1.015)">5</text>
<text class="tk" transform="translate(1427.1 854.3) scale(1 1.015)">0</text>
<text class="xl" style="letter-spacing:0.15px" transform="translate(1524.5 884.9) scale(1 1.03)">PD</text>
<text class="xl" style="letter-spacing:0.15px" transform="translate(1654 884.9) scale(1 1.03)">RBD</text>
<text class="xl" transform="translate(1782.5 884.9) scale(1 0.95)">controls</text>
<text class="yb" transform="translate(1359.2 794.6) rotate(-90)" textLength="66" lengthAdjust="spacingAndGlyphs">AST</text>
<text class="yu" transform="translate(1360 701) rotate(-90) scale(1 0.98)">(- / min<tspan dy="-13.5" font-size="16.5">2</tspan><tspan dy="13.5">)</tspan></text>
<text class="hs" transform="translate(1841 584.3) scale(1 1.03)">###</text></g>
<g><line x1="1442.1" y1="972.6" x2="1442.1" y2="1247.4" stroke="#000" stroke-width="1.25"/>
<path d="M1442.1 962.6 L1449.8 979.2 Q1442.1 976.2 1434.4 979.2 Z" fill="#000"/>
<line x1="1441.55" y1="1246.9" x2="1866.1" y2="1246.9" stroke="#000" stroke-width="1.1"/>
<line x1="1864.7" y1="1240.9" x2="1864.7" y2="1253.2" stroke="#000" stroke-width="2.4"/>
<rect x="1478.6" y="1156.2" width="41.0" height="91.35" fill="#000"/>
<rect x="1530.7" y="1098.6" width="41.0" height="148.95" fill="#878787"/>
<rect x="1606.9" y="1166.2" width="41.0" height="81.35" fill="#000"/>
<rect x="1658.9" y="1117.7" width="41.0" height="129.85" fill="#878787"/>
<rect x="1736.4" y="1182.9" width="41.0" height="64.65" fill="#000"/>
<rect x="1788.2" y="1147.1" width="41.0" height="100.45" fill="#878787"/>
<rect x="1497.4" y="1111.3" width="3.8" height="44.9" fill="#000"/>
<rect x="1487.1" y="1111.3" width="24.4" height="3.3" fill="#000"/>
<rect x="1549.65" y="1021.6" width="3.5" height="77" fill="#878787"/>
<rect x="1539.2" y="1021.6" width="24.4" height="3.3" fill="#878787"/>
<rect x="1625.7" y="1129.4" width="3.8" height="36.8" fill="#000"/>
<rect x="1615.4" y="1129.4" width="24.4" height="3.3" fill="#000"/>
<rect x="1677.85" y="1064.5" width="3.5" height="53.2" fill="#878787"/>
<rect x="1667.4" y="1064.5" width="24.4" height="3.3" fill="#878787"/>
<rect x="1755.2" y="1161.9" width="3.8" height="21" fill="#000"/>
<rect x="1744.9" y="1161.9" width="24.4" height="3.3" fill="#000"/>
<rect x="1807.15" y="1102.6" width="3.5" height="44.5" fill="#878787"/>
<rect x="1796.7" y="1102.6" width="24.4" height="3.3" fill="#878787"/>
<line x1="1433.6" y1="999.5" x2="1442.1" y2="999.5" stroke="#111" stroke-width="1.25"/>
<text class="tk" transform="translate(1429.5 1010.4) scale(1 1.015)">400</text>
<line x1="1433.6" y1="1036" x2="1442.1" y2="1036" stroke="#111" stroke-width="1.25"/>
<text class="tk" transform="translate(1429.5 1046.9) scale(1 1.015)">350</text>
<line x1="1433.6" y1="1072.6" x2="1442.1" y2="1072.6" stroke="#111" stroke-width="1.25"/>
<text class="tk" transform="translate(1429.5 1083.5) scale(1 1.015)">300</text>
<line x1="1433.6" y1="1109.1" x2="1442.1" y2="1109.1" stroke="#111" stroke-width="1.25"/>
<text class="tk" transform="translate(1429.5 1120) scale(1 1.015)">250</text>
<line x1="1433.6" y1="1145.6" x2="1442.1" y2="1145.6" stroke="#111" stroke-width="1.25"/>
<text class="tk" transform="translate(1429.5 1156.5) scale(1 1.015)">200</text>
<line x1="1433.6" y1="1182.2" x2="1442.1" y2="1182.2" stroke="#111" stroke-width="1.25"/>
<text class="tk" transform="translate(1429.5 1193.1) scale(1 1.015)">150</text>
<line x1="1433.6" y1="1218.7" x2="1442.1" y2="1218.7" stroke="#111" stroke-width="1.25"/>
<text class="tk" transform="translate(1429.5 1229.6) scale(1 1.015)">100</text>
<line x1="1435.1" y1="1240.5" x2="1449.5" y2="1228.4" stroke="#000" stroke-width="1.3"/>
<line x1="1435.1" y1="1247.6" x2="1449.5" y2="1235.5" stroke="#000" stroke-width="1.3"/>
<text class="xl" style="letter-spacing:0.15px" transform="translate(1524.5 1288.1) scale(1 1.03)">PD</text>
<text class="xl" style="letter-spacing:0.15px" transform="translate(1654 1288.1) scale(1 1.03)">RBD</text>
<text class="xl" transform="translate(1782.5 1288.1) scale(1 0.95)">controls</text>
<text class="yb" transform="translate(1359.2 1196.4) rotate(-90)" textLength="54.2" lengthAdjust="spacingAndGlyphs">DPI</text>
<text class="yu" transform="translate(1360 1103.9) rotate(-90) scale(1 0.98)">(ms)</text>
<text class="hs" transform="translate(1841.6 988.4) scale(1 1.03)">###</text>
<path d="M1524.7 983.7 V976.7 H1628.5 M1678.7 976.7 H1782.5 V983.7" fill="none" stroke="#111" stroke-width="1.25"/>
<text class="st" x="1653.9" y="988.6">***</text>
<path d="M1653.6 1009.8 V1002.8 H1702 M1734 1002.8 H1782.5 V1009.8" fill="none" stroke="#111" stroke-width="1.25"/>
<text class="st" x="1719.9" y="1015.7">*</text></g>
<g><line x1="1442.1" y1="1339.6" x2="1442.1" y2="1613" stroke="#000" stroke-width="1.25"/>
<path d="M1442.1 1329.6 L1449.8 1346.2 Q1442.1 1343.2 1434.4 1346.2 Z" fill="#000"/>
<line x1="1441.55" y1="1612.5" x2="1866.1" y2="1612.5" stroke="#000" stroke-width="1.1"/>
<line x1="1864.7" y1="1606.5" x2="1864.7" y2="1618.8" stroke="#000" stroke-width="2.4"/>
<rect x="1478.6" y="1492.8" width="41.0" height="120.35" fill="#000"/>
<rect x="1530.7" y="1476.1" width="41.0" height="137.05" fill="#878787"/>
<rect x="1606.9" y="1502.2" width="41.0" height="110.95" fill="#000"/>
<rect x="1658.9" y="1479.7" width="41.0" height="133.45" fill="#878787"/>
<rect x="1736.4" y="1487.8" width="41.0" height="125.35" fill="#000"/>
<rect x="1788.2" y="1466.7" width="41.0" height="146.45" fill="#878787"/>
<rect x="1497.4" y="1387.1" width="3.8" height="105.7" fill="#000"/>
<rect x="1487.1" y="1387.1" width="24.4" height="3.3" fill="#000"/>
<rect x="1549.65" y="1401.5" width="3.5" height="74.6" fill="#878787"/>
<rect x="1539.2" y="1401.5" width="24.4" height="3.3" fill="#878787"/>
<rect x="1625.7" y="1391.1" width="3.8" height="111.1" fill="#000"/>
<rect x="1615.4" y="1391.1" width="24.4" height="3.3" fill="#000"/>
<rect x="1677.85" y="1420.9" width="3.5" height="58.8" fill="#878787"/>
<rect x="1667.4" y="1420.9" width="24.4" height="3.3" fill="#878787"/>
<rect x="1755.2" y="1433.9" width="3.8" height="53.9" fill="#000"/>
<rect x="1744.9" y="1433.9" width="24.4" height="3.3" fill="#000"/>
<rect x="1807.15" y="1410.2" width="3.5" height="56.5" fill="#878787"/>
<rect x="1796.7" y="1410.2" width="24.4" height="3.3" fill="#878787"/>
<line x1="1433.6" y1="1364.6" x2="1442.1" y2="1364.6" stroke="#111" stroke-width="1.25"/>
<text class="tk" transform="translate(1427.5 1377) scale(1 1.015)">1.58</text>
<line x1="1433.6" y1="1409.8" x2="1442.1" y2="1409.8" stroke="#111" stroke-width="1.25"/>
<text class="tk" transform="translate(1427.5 1420.3) scale(1 1.015)">1.57</text>
<line x1="1433.6" y1="1455" x2="1442.1" y2="1455" stroke="#111" stroke-width="1.25"/>
<text class="tk" transform="translate(1427.5 1465.5) scale(1 1.015)">1.56</text>
<line x1="1433.6" y1="1500.2" x2="1442.1" y2="1500.2" stroke="#111" stroke-width="1.25"/>
<text class="tk" transform="translate(1427.5 1510.7) scale(1 1.015)">1.55</text>
<line x1="1433.6" y1="1545.4" x2="1442.1" y2="1545.4" stroke="#111" stroke-width="1.25"/>
<text class="tk" transform="translate(1427.5 1555.9) scale(1 1.015)">1.54</text>
<text class="tk" transform="translate(1429.7 1624.8) scale(1 1.015)">0</text>
<line x1="1435.1" y1="1580.5" x2="1449.5" y2="1568.4" stroke="#000" stroke-width="1.3"/>
<line x1="1435.1" y1="1587.6" x2="1449.5" y2="1575.5" stroke="#000" stroke-width="1.3"/>
<text class="xl" style="letter-spacing:0.15px" transform="translate(1524.5 1654) scale(1 1.03)">PD</text>
<text class="xl" style="letter-spacing:0.15px" transform="translate(1654 1654) scale(1 1.03)">RBD</text>
<text class="xl" transform="translate(1782.5 1654) scale(1 0.95)">controls</text>
<text class="yb" transform="translate(1352.6 1563.3) rotate(-90)" textLength="65.3" lengthAdjust="spacingAndGlyphs">EST</text>
<text class="yu" transform="translate(1353.4 1468.4) rotate(-90) scale(1 0.98)">(-)</text></g>
<g>
<path d="M213.5 1551.5 H38.0 A31 31 0 0 0 7.0 1582.5 V1663.0 A31 31 0 0 0 38.0 1694.0 H580.3 A31 31 0 0 0 611.3 1663.0 V1582.5 A31 31 0 0 0 580.3 1551.5 H394.5" fill="none" stroke="#000" stroke-width="1.25" stroke-dasharray="1.5 0.9"/>
<text class="lgt" x="236.2" y="1561.3" textLength="138" lengthAdjust="spacingAndGlyphs">LEGEND</text>
<rect x="61.5" y="1610.0" width="41" height="57.5" fill="#000"/>
<rect x="80.3" y="1590" width="3.4" height="22" fill="#000"/><rect x="69.8" y="1588.8" width="24.4" height="3" fill="#000"/>
<rect x="320" y="1616.2" width="41.3" height="51.3" fill="#878787"/>
<rect x="339.1" y="1592" width="3" height="25" fill="#878787"/><rect x="328.4" y="1590.5" width="24.4" height="3" fill="#878787"/>
<text class="lg" transform="translate(131.2 1632.6) scale(1 1.02)">Reading</text>
<text class="lg" transform="translate(131.2 1667.6) scale(1 1.02)">passage</text>
<text class="lg" transform="translate(388.4 1667.6) scale(1 1.02)">Monologue</text>
</g>
</svg>
</body></html>
